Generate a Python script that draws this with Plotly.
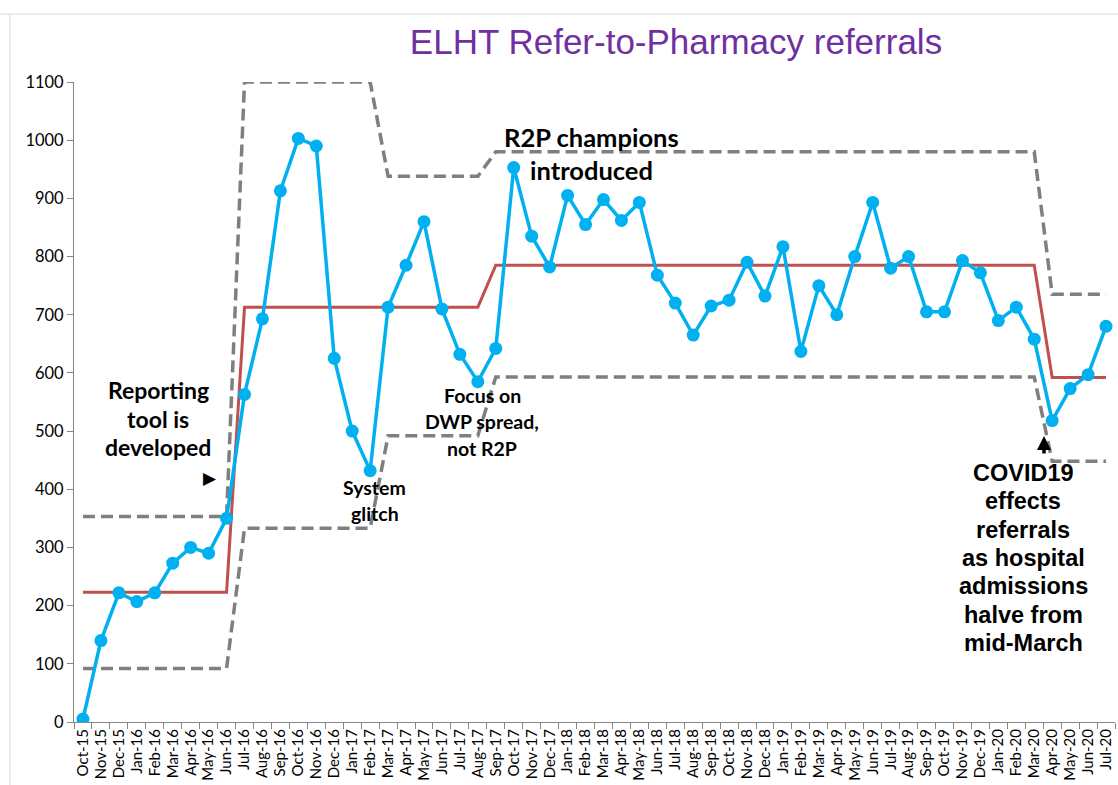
import plotly.graph_objects as go

months = ["Oct-15","Nov-15","Dec-15",
          "Jan-16","Feb-16","Mar-16","Apr-16","May-16","Jun-16","Jul-16","Aug-16","Sep-16","Oct-16","Nov-16","Dec-16",
          "Jan-17","Feb-17","Mar-17","Apr-17","May-17","Jun-17","Jul-17","Aug-17","Sep-17","Oct-17","Nov-17","Dec-17",
          "Jan-18","Feb-18","Mar-18","Apr-18","May-18","Jun-18","Jul-18","Aug-18","Sep-18","Oct-18","Nov-18","Dec-18",
          "Jan-19","Feb-19","Mar-19","Apr-19","May-19","Jun-19","Jul-19","Aug-19","Sep-19","Oct-19","Nov-19","Dec-19",
          "Jan-20","Feb-20","Mar-20","Apr-20","May-20","Jun-20","Jul-20"]

referrals = [5, 140, 222,
             207, 222, 273, 300, 290, 350, 563, 693, 913, 1003, 990, 625,
             500, 432, 713, 785, 860, 710, 632, 585, 642, 953, 835, 782,
             905, 855, 898, 862, 893, 768, 720, 665, 715, 725, 790, 732,
             817, 637, 750, 700, 800, 893, 780, 800, 705, 705, 793, 772,
             690, 713, 658, 518, 573, 597, 680]

# Process segments: (number of months, mean, upper limit, lower limit)
seg_lengths = [9, 8, 6, 31, 4]
seg_mean    = [223, 713, 713, 785, 592]
seg_upper   = [353, 1100, 938, 980, 735]
seg_lower   = [92, 333, 492, 593, 448]

def expand(vals):
    out = []
    for n, v in zip(seg_lengths, vals):
        out += [v] * n
    return out

mean_line = expand(seg_mean)
upper_line = expand(seg_upper)
lower_line = expand(seg_lower)

y_ticks = list(range(0, 1101, 100))

# plot-area pixel geometry (for placing annotations)
PL, PR, PT, PB = 74, 1115, 82, 722
def px(x):
    return (x - PL) / (PR - PL)
def py(y):
    return (PB - y) / (PB - PT)

fig = go.Figure()
fig.add_trace(go.Scatter(x=months, y=upper_line, mode="lines",
                         line=dict(color="#7F7F7F", width=3.5, dash="12px,6px"), hoverinfo="skip"))
fig.add_trace(go.Scatter(x=months, y=lower_line, mode="lines",
                         line=dict(color="#7F7F7F", width=3.5, dash="12px,6px"), hoverinfo="skip"))
fig.add_trace(go.Scatter(x=months, y=mean_line, mode="lines",
                         line=dict(color="#C0504D", width=3), hoverinfo="skip"))
fig.add_trace(go.Scatter(x=months, y=referrals, mode="lines+markers",
                         line=dict(color="#00B0F0", width=3.5),
                         marker=dict(color="#00B0F0", size=13)))

ann = []
def lines(cx, y0, dy, parts, size, family="Lato", bold=True):
    for i, t in enumerate(parts):
        ann.append(dict(x=px(cx), y=py(y0 + i * dy), xref="paper", yref="paper",
                        text=("<b>%s</b>" % t) if bold else t,
                        showarrow=False, xanchor="center", yanchor="middle",
                        font=dict(family=family, size=size, color="black")))

lines(158, 390, 28.5, ["Reporting", "tool is", "developed"], 23)
lines(210, 477, 0, ["▶"], 17, bold=False)
lines(374.5, 487, 26, ["System", "glitch"], 19.5)
lines(482, 395, 26.5, ["Focus on", "DWP spread,", "not R2P"], 19.5)
lines(591, 137, 33, ["R2P champions", "introduced"], 25.5)
lines(1023, 473, 28.3, ["COVID19", "effects", "referrals", "as hospital",
                        "admissions", "halve from", "mid-March"], 23.5, family="Liberation Sans")
ann.append(dict(x=px(1044), y=py(436), xref="paper", yref="paper", text="",
                showarrow=True, arrowhead=2, arrowsize=0.8, arrowwidth=3.5, arrowcolor="black",
                ax=0, ay=19))

fig.update_layout(
    width=1118, height=785,
    margin=dict(l=PL, r=1118 - PR, t=PT, b=785 - PB),
    paper_bgcolor="white", plot_bgcolor="white",
    showlegend=False,
    title=dict(text="ELHT Refer-to-Pharmacy referrals", x=676 / 1118, xanchor="center",
               y=1 - 42 / 785, yanchor="middle",
               font=dict(family="Liberation Sans", size=35, color="#7030A0")),
    annotations=ann,
    shapes=[
        dict(type="line", xref="paper", yref="paper", x0=px(0), x1=px(1118), y0=py(14), y1=py(14),
             line=dict(color="#D9D9D9", width=1)),
        dict(type="line", xref="paper", yref="paper", x0=px(10), x1=px(10), y0=py(14), y1=py(785),
             line=dict(color="#D9D9D9", width=1)),
    ],
)
fig.update_xaxes(type="category", range=[-0.5, len(months) - 0.5],
                 tickmode="array", tickvals=months, ticktext=months,
                 tickangle=-90, tickfont=dict(family="Lato", size=15, color="black"),
                 showline=True, linecolor="#868686", linewidth=1,
                 ticks="outside", tickson="boundaries", ticklen=6, tickcolor="#868686",
                 showgrid=False, zeroline=False)
fig.update_yaxes(range=[0, 1100], tickvals=y_ticks,
                 tickfont=dict(family="Lato", size=16.5, color="black"),
                 showline=True, linecolor="#868686", linewidth=1,
                 ticks="outside", ticklen=6, tickcolor="#868686",
                 showgrid=False, zeroline=False)

fig.write_html("out.html", config={"displayModeBar": False})

# remove the browser's default body margin so the figure sits at the page origin
with open("out.html", encoding="utf-8") as f:
    html = f.read()
html = html.replace("<body>", '<body style="margin:0;padding:0;overflow:hidden">', 1)
with open("out.html", "w", encoding="utf-8") as f:
    f.write(html)
